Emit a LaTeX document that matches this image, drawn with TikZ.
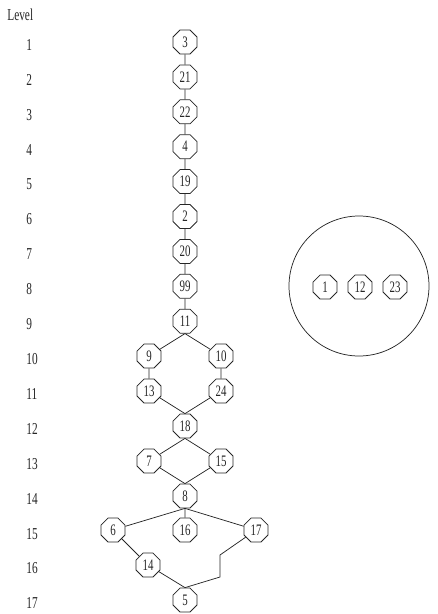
\documentclass[tikz,border=0pt]{standalone}
\usepackage{fontspec}
\setmainfont[FakeStretch=0.68]{Liberation Serif}
\usetikzlibrary{shapes.geometric}

\begin{document}
\begin{tikzpicture}[x=0.75pt, y=-0.75pt,
    oct/.style={draw, regular polygon, regular polygon sides=8, minimum size=19.5pt,
      inner sep=0pt, font=\fontsize{12}{12}\selectfont},
    lvl/.style={anchor=west, inner sep=0pt, font=\fontsize{12.5}{12.5}\selectfont},
    every path/.style={line width=0.55pt, black!85}]
  \useasboundingbox (0,0) rectangle (438,614);
  % level numbers down the left side
  \node[lvl] (lvltitle) at (7,15) {Level};
  \foreach \k in {1,...,17}
    \node[lvl] (lvl\k) at (26,{45+(\k-1)*34.9}) {\k};
  % single chain, levels 1 to 9
  \foreach \lab [count=\k] in {3,21,22,4,19,2,20,99,11}
    \node[oct] (n\lab) at (185,{42+(\k-1)*34.9}) {\lab};
  \foreach \a/\b in {3/21,21/22,22/4,4/19,19/2,2/20,20/99,99/11}
    \draw (n\a) -- (n\b);
  % branches below 11
  \node[oct] (n9) at (149,356) {9};
  \node[oct] (n10) at (221,356) {10};
  \node[oct] (n13) at (149,391) {13};
  \node[oct] (n24) at (221,391) {24};
  \node[oct] (n18) at (185,426) {18};
  \node[oct] (n7) at (149,461) {7};
  \node[oct] (n15) at (221,461) {15};
  \node[oct] (n8) at (185,496) {8};
  \node[oct] (n6) at (113,530) {6};
  \node[oct] (n16) at (185,530) {16};
  \node[oct] (n17) at (256,530) {17};
  \node[oct] (n14) at (148,565) {14};
  \node[oct] (n5) at (185,600) {5};
  \coordinate (kneeA) at (220,555);
  \coordinate (kneeB) at (220,577);
  \draw (n11.south) -- (n9);
  \draw (n11.south) -- (n10);
  \draw (n9) -- (n13);
  \draw (n10) -- (n24);
  \draw (n13) -- (n18.north);
  \draw (n24) -- (n18.north);
  \draw (n18.south) -- (n7);
  \draw (n18.south) -- (n15);
  \draw (n7) -- (n8.north);
  \draw (n15) -- (n8.north);
  \draw (n8.south) -- (n6);
  \draw (n8.south) -- (n16);
  \draw (n8.south) -- (n17);
  \draw (n6) -- (n14);
  \draw (n14) -- (n5.north);
  \draw (n17) -- (kneeA) -- (kneeB) -- (n5.north);
  % isolated nodes
  \node[draw, circle, minimum size=105pt] (pool) at (359,286) {};
  \node[oct] (n1) at (325,287) {1};
  \node[oct] (n12) at (360,287) {12};
  \node[oct] (n23) at (395,287) {23};
\end{tikzpicture}
\end{document}
